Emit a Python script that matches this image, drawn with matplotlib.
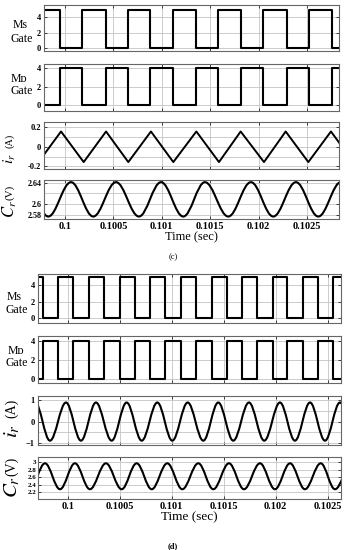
import numpy as np
import matplotlib
matplotlib.use("Agg")
import matplotlib.pyplot as plt
from matplotlib.path import Path
from matplotlib.patches import PathPatch

plt.rcParams['font.family'] = ['Liberation Serif', 'DejaVu Serif', 'DejaVu Sans']
plt.rcParams['mathtext.fontset'] = 'stix'

# ---------------- data: panel (c) ----------------
c_xlim = (0.099783, 0.102831)
c_ms_fall = [0.09995, 0.10042, 0.10088, 0.10135, 0.10182, 0.10229, 0.10276]
c_ms_rise = [0.10018, 0.10065, 0.10112, 0.10158, 0.10205, 0.10252]
c_ms_high = 5
c_md_high = 4
c_ir_peak_t = [0.099959, 0.100424, 0.100888, 0.101357, 0.101815, 0.102280, 0.102748]
c_ir_trough_t = [0.099726, 0.100193, 0.100654, 0.101119, 0.101591, 0.102056, 0.102514, 0.102979]
c_ir_peak_v = 0.154
c_ir_trough_v = -0.156
c_cr_peak_t = [0.099597, 0.100062, 0.100527, 0.100992, 0.101446, 0.101921, 0.102386, 0.102851]
c_cr_trough_t = [0.099827, 0.100292, 0.100764, 0.101222, 0.101687, 0.102152, 0.102617]
c_cr_peak_v = 2.641
c_cr_trough_v = 2.577

# ---------------- data: panel (d) ----------------
d_xlim = (0.099712, 0.102625)
d_ms_fall = [0.099760, 0.100054, 0.100352, 0.100647, 0.100936, 0.101231, 0.101529, 0.101817, 0.102111, 0.102410]
d_ms_rise = [0.099910, 0.100208, 0.100503, 0.100791, 0.101089, 0.101385, 0.101679, 0.101977, 0.102265, 0.102554]
d_ms_high = 5
d_md_high = 4
d_ir_peak_t = [0.099688, 0.099984, 0.100272, 0.100567, 0.100862, 0.101154, 0.101448, 0.101743, 0.102041, 0.102330, 0.102618]
d_ir_trough_t = [0.099830, 0.100128, 0.100423, 0.100712, 0.101006, 0.101304, 0.101592, 0.101890, 0.102185, 0.102474, 0.102768]
d_ir_peak_v = 0.88
d_ir_trough_v = -0.88
d_cr_peak_t = [0.099782, 0.100070, 0.100368, 0.100663, 0.100958, 0.101256, 0.101551, 0.101849, 0.102138, 0.102433, 0.102728]
d_cr_trough_t = [0.099637, 0.099926, 0.100214, 0.100519, 0.100808, 0.101102, 0.101400, 0.101695, 0.101993, 0.102281, 0.102570]
d_cr_peak_v = 2.97
d_cr_trough_v = 2.28

x_ticks = [0.1, 0.1005, 0.101, 0.1015, 0.102, 0.1025]
x_ticklabels = ['0.1', '0.1005', '0.101', '0.1015', '0.102', '0.1025']

# ---------------- figure ----------------
W, H = 347, 550
fig = plt.figure(figsize=(W / 100, H / 100), dpi=100)
fig.patch.set_facecolor('white')

def add_ax(x0, x1, y0, y1):
    return fig.add_axes([x0 / W, 1 - y1 / H, (x1 - x0) / W, (y1 - y0) / H])

def style(ax, xlim, show_x):
    ax.set_xlim(*xlim)
    ax.set_xticks(x_ticks)
    if show_x:
        ax.set_xticklabels(x_ticklabels, fontsize=7.5, fontweight='bold')
    else:
        ax.set_xticklabels([])
    ax.tick_params(direction='in', top=True, right=True, length=2, width=0.5, pad=2)
    ax.tick_params(axis='y', labelsize=6)
    for lab in ax.get_yticklabels():
        lab.set_fontweight('bold')
    ax.grid(True, which='both', color='#c4c4c4', lw=0.6)
    ax.set_axisbelow(True)
    for s in ax.spines.values():
        s.set_color('#666666')
        s.set_linewidth(0.8)

def square(ax, xlim, fall, rise, high, start_high):
    edges = sorted(fall + rise)
    t = [xlim[0]] + edges + [xlim[1]]
    lev = [start_high]
    for _ in edges:
        lev.append(not lev[-1])
    vals = [high if l else 0 for l in lev]
    vals.append(vals[-1])
    ax.step(t, vals, where='post', color='black', lw=1.5)

def triangle(ax, peak_t, pv, trough_t, tv):
    pts = sorted([(t, pv) for t in peak_t] + [(t, tv) for t in trough_t])
    ax.plot([p[0] for p in pts], [p[1] for p in pts], color='black', lw=1.4)

def smooth(ax, peak_t, pv, trough_t, tv, lw=1.5):
    pts = sorted([(t, pv) for t in peak_t] + [(t, tv) for t in trough_t])
    k = 0.3634
    verts = [pts[0]]
    codes = [Path.MOVETO]
    for (t0, v0), (t1, v1) in zip(pts[:-1], pts[1:]):
        dt = t1 - t0
        verts += [(t0 + k * dt, v0), (t1 - k * dt, v1), (t1, v1)]
        codes += [Path.CURVE4] * 3
    ax.add_patch(PathPatch(Path(verts, codes), fill=False, ec='black', lw=lw))

def label(x, y, s, size, rot=0, weight='normal'):
    fig.text(x / W, 1 - y / H, s, fontsize=size, rotation=rot,
             ha='center', va='center', fontweight=weight)

# ---------------- panel (c) ----------------
cx0, cx1 = 44, 339
ax = add_ax(cx0, cx1, 5, 51)
square(ax, c_xlim, c_ms_fall, c_ms_rise, c_ms_high, True)
ax.set_ylim(-0.45, 5.65); ax.set_yticks([0, 2, 4])
style(ax, c_xlim, False)

ax = add_ax(cx0, cx1, 64, 111)
square(ax, c_xlim, c_ms_fall, c_ms_rise, c_md_high, False)
ax.set_ylim(-0.6, 4.45); ax.set_yticks([0, 2, 4])
style(ax, c_xlim, False)

ax = add_ax(cx0, cx1, 122, 169)
triangle(ax, c_ir_peak_t, c_ir_peak_v, c_ir_trough_t, c_ir_trough_v)
ax.set_ylim(-0.226, 0.25); ax.set_yticks([-0.2, 0, 0.2])
ax.set_yticklabels(['-0.2', '0', '0.2'])
ax.set_yticks([-0.1, 0.1], minor=True)
style(ax, c_xlim, False)
ax.tick_params(which='minor', length=0)

ax = add_ax(cx0, cx1, 180, 219)
smooth(ax, c_cr_peak_t, c_cr_peak_v, c_cr_trough_t, c_cr_trough_v)
ax.set_ylim(2.5724, 2.645); ax.set_yticks([2.58, 2.6, 2.64])
ax.set_yticklabels(['2.58', '2.6', '2.64'])
ax.set_yticks([2.62], minor=True)
style(ax, c_xlim, True)
ax.tick_params(axis='y', labelsize=5.8)
ax.tick_params(which='minor', length=0)

label(20, 25, 'Ms', 8.5)
label(22, 39, 'Gate', 8.5)
label(19, 79, 'M\u1d05', 8.5)
label(22, 91, 'Gate', 8.5)
label(10, 159, '$i_r$', 11, rot=90)
label(10, 141, '(A)', 7.5, rot=90)
label(10, 209, '$C_r$', 12, rot=90)
label(10, 192, '(V)', 8, rot=90)
label(cx0 + (cx1 - cx0) / 2, 237, 'Time (sec)', 9)
label(173, 257, '(c)', 6)

# ---------------- panel (d) ----------------
dx0, dx1 = 37.7, 340.7
ax = add_ax(dx0, dx1, 274, 323)
square(ax, d_xlim, d_ms_fall, d_ms_rise, d_ms_high, True)
ax.set_ylim(-0.57, 5.32); ax.set_yticks([0, 2, 4])
style(ax, d_xlim, False)

ax = add_ax(dx0, dx1, 335.7, 383.3)
square(ax, d_xlim, d_ms_fall, d_ms_rise, d_md_high, False)
ax.set_ylim(-0.45, 4.56); ax.set_yticks([0, 2, 4])
style(ax, d_xlim, False)

ax = add_ax(dx0, dx1, 396, 445)
smooth(ax, d_ir_peak_t, d_ir_peak_v, d_ir_trough_t, d_ir_trough_v)
ax.set_ylim(-1.08, 1.18); ax.set_yticks([-1, 0, 1])
ax.set_yticks([-0.5, 0.5], minor=True)
style(ax, d_xlim, False)
ax.tick_params(which='minor', length=0)

ax = add_ax(dx0, dx1, 457.3, 499)
smooth(ax, d_cr_peak_t, d_cr_peak_v, d_cr_trough_t, d_cr_trough_v)
ax.set_ylim(2.02, 3.13); ax.set_yticks([2.2, 2.4, 2.6, 2.8, 3])
ax.set_yticklabels(['2.2', '2.4', '2.6', '2.8', '3'])
style(ax, d_xlim, True)
ax.tick_params(axis='y', labelsize=5, pad=1)

label(14, 297, 'Ms', 8.5)
label(17, 310, 'Gate', 8.5)
label(16, 351, 'M\u1d05', 8.5)
label(17, 363, 'Gate', 8.5)
label(12, 431, '$i_r$', 15, rot=90)
label(12, 408, '(A)', 10, rot=90)
label(12, 487, '$C_r$', 15, rot=90)
label(12, 466, '(V)', 10, rot=90)
label(dx0 + (dx1 - dx0) / 2, 517, 'Time (sec)', 9.5)
label(173, 546, '(d)', 6, weight='bold')

fig.savefig('out.png', dpi=100)
